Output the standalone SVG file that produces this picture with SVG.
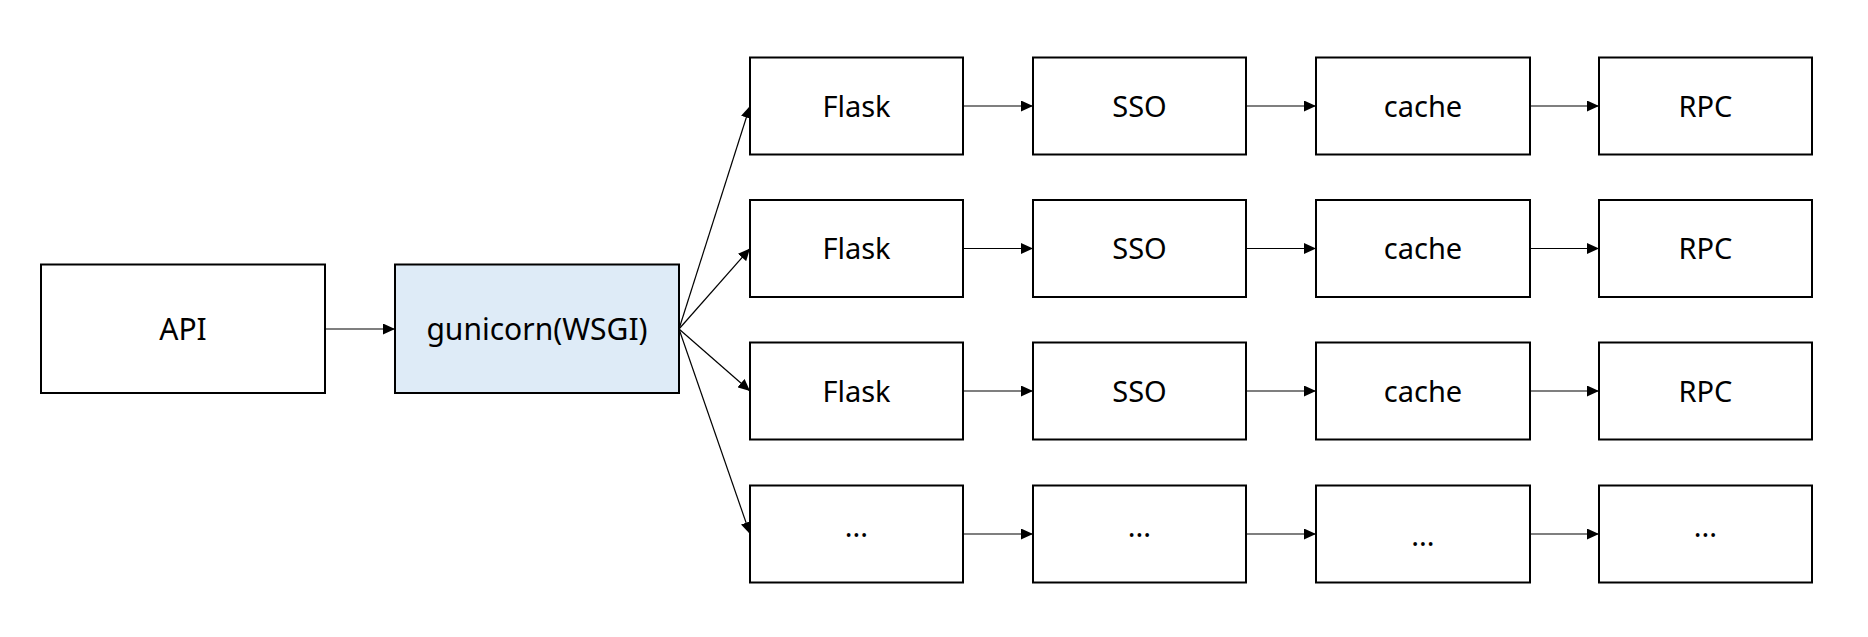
<svg xmlns="http://www.w3.org/2000/svg" width="1868" height="637" viewBox="0 0 1868 637">
<style>
.box{fill:#fff;stroke:#000;stroke-width:2}
.blue{fill:#deebf7}
.t{font-family:"Noto Sans","Open Sans",sans-serif;font-size:29px;fill:#000;text-anchor:middle}
.big{font-size:30px}
.c{stroke:#000;stroke-width:1.2;fill:none;marker-end:url(#ah)}
</style>
<defs>
<marker id="ah" markerUnits="userSpaceOnUse" markerWidth="12" markerHeight="11" refX="12" refY="5.5" orient="auto" viewBox="0 0 12 11">
<path d="M0,0 L12,5.5 L0,11 z" fill="#000"/>
</marker>
</defs>
<rect width="1868" height="637" fill="#fff"/>
<g id="connectors">
<line class="c" x1="325" y1="329" x2="395" y2="329"/>
<line class="c" x1="679" y1="329" x2="750" y2="106"/>
<line class="c" x1="679" y1="329" x2="750" y2="248.5"/>
<line class="c" x1="679" y1="329" x2="750" y2="391"/>
<line class="c" x1="679" y1="329" x2="750" y2="534"/>
<line class="c" x1="963" y1="106" x2="1033" y2="106"/>
<line class="c" x1="1246" y1="106" x2="1316" y2="106"/>
<line class="c" x1="1530" y1="106" x2="1599" y2="106"/>
<line class="c" x1="963" y1="248.5" x2="1033" y2="248.5"/>
<line class="c" x1="1246" y1="248.5" x2="1316" y2="248.5"/>
<line class="c" x1="1530" y1="248.5" x2="1599" y2="248.5"/>
<line class="c" x1="963" y1="391" x2="1033" y2="391"/>
<line class="c" x1="1246" y1="391" x2="1316" y2="391"/>
<line class="c" x1="1530" y1="391" x2="1599" y2="391"/>
<line class="c" x1="963" y1="534" x2="1033" y2="534"/>
<line class="c" x1="1246" y1="534" x2="1316" y2="534"/>
<line class="c" x1="1530" y1="534" x2="1599" y2="534"/>
</g>
<g id="api"><rect class="box" x="41" y="264.5" width="284" height="128.5"/><text class="t big" x="183" y="340">API</text></g>
<g id="gunicorn"><rect class="box blue" x="395" y="264.5" width="284" height="128.5"/><text class="t big" x="537" y="340">gunicorn(WSGI)</text></g>
<g id="flask1"><rect class="box" x="750" y="57.5" width="213" height="97"/><text class="t" x="856.5" y="116.5">Flask</text></g>
<g id="sso1"><rect class="box" x="1033" y="57.5" width="213" height="97"/><text class="t" x="1139.5" y="116.5">SSO</text></g>
<g id="cache1"><rect class="box" x="1316" y="57.5" width="214" height="97"/><text class="t" x="1423" y="116.5">cache</text></g>
<g id="rpc1"><rect class="box" x="1599" y="57.5" width="213" height="97"/><text class="t" x="1705.5" y="116.5">RPC</text></g>
<g id="flask2"><rect class="box" x="750" y="200" width="213" height="97"/><text class="t" x="856.5" y="259">Flask</text></g>
<g id="sso2"><rect class="box" x="1033" y="200" width="213" height="97"/><text class="t" x="1139.5" y="259">SSO</text></g>
<g id="cache2"><rect class="box" x="1316" y="200" width="214" height="97"/><text class="t" x="1423" y="259">cache</text></g>
<g id="rpc2"><rect class="box" x="1599" y="200" width="213" height="97"/><text class="t" x="1705.5" y="259">RPC</text></g>
<g id="flask3"><rect class="box" x="750" y="342.5" width="213" height="97"/><text class="t" x="856.5" y="401.5">Flask</text></g>
<g id="sso3"><rect class="box" x="1033" y="342.5" width="213" height="97"/><text class="t" x="1139.5" y="401.5">SSO</text></g>
<g id="cache3"><rect class="box" x="1316" y="342.5" width="214" height="97"/><text class="t" x="1423" y="401.5">cache</text></g>
<g id="rpc3"><rect class="box" x="1599" y="342.5" width="213" height="97"/><text class="t" x="1705.5" y="401.5">RPC</text></g>
<g id="flask4"><rect class="box" x="750" y="485.5" width="213" height="97"/><text class="t" x="856.5" y="537">...</text></g>
<g id="sso4"><rect class="box" x="1033" y="485.5" width="213" height="97"/><text class="t" x="1139.5" y="537">...</text></g>
<g id="cache4"><rect class="box" x="1316" y="485.5" width="214" height="97"/><text class="t" x="1423" y="546">...</text></g>
<g id="rpc4"><rect class="box" x="1599" y="485.5" width="213" height="97"/><text class="t" x="1705.5" y="537">...</text></g>
</svg>
